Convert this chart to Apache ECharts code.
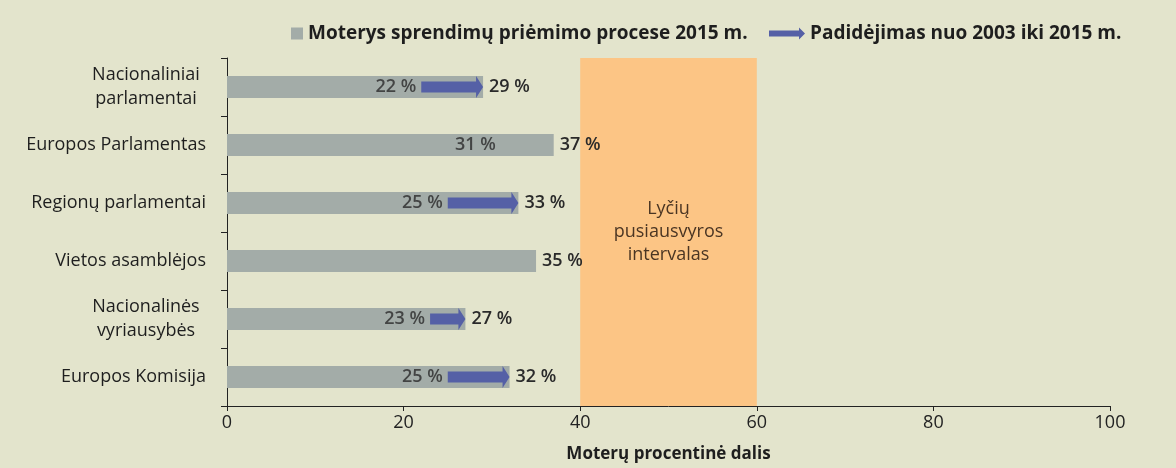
<!DOCTYPE html>
<html>
<head>
<meta charset="utf-8">
<script src="https://cdn.jsdelivr.net/npm/echarts@6/dist/echarts.min.js"></script>
<style>
  html, body { margin: 0; padding: 0; background: #e3e4cc; }
  #chart { width: 1176px; height: 468px; }
</style>
</head>
<body>
<div id="chart"></div>
<script>
// duomenys
const categories = ['Nacionaliniai\nparlamentai', 'Europos Parlamentas', 'Regionų parlamentai', 'Vietos asamblėjos', 'Nacionalinės\nvyriausybės', 'Europos Komisija']
const share2015 = [29, 37, 33, 35, 27, 32]
const share2003 = [22, 31, 25, null, 23, 25]
const arrowFrom = [22, null, 25, null, 23, 25]
const xTicks = [0, 20, 40, 60, 80, 100]
const balanceRange = [40, 60]

const barName = 'Moterys sprendimų priėmimo procese 2015 m.'
const arrowName = 'Padidėjimas nuo 2003 iki 2015 m.'
const FONT = 'Open Sans'
const ARROW = '#5560a6'
const arrowIcon = 'path://M0,3 L30,3 L30,0 L36,6 L30,12 L30,9 L0,9 Z'
const legendText = { fontFamily: FONT, fontWeight: 'bold', fontSize: 19, color: '#1e1e1e' }

let myChart = echarts.init(document.getElementById('chart'))

myChart.setOption({
  backgroundColor: '#e3e4cc',
  textStyle: { fontFamily: FONT },
  legend: [
    {
      top: 19,
      left: 286,
      itemWidth: 12,
      itemHeight: 12,
      itemGap: 0,
      textStyle: legendText,
      data: [{ name: barName, icon: 'rect' }]
    },
    {
      top: 19,
      left: 764,
      itemWidth: 36,
      itemHeight: 12,
      itemGap: 0,
      textStyle: legendText,
      data: [{ name: arrowName, icon: arrowIcon, itemStyle: { color: ARROW } }]
    }
  ],
  grid: { left: 227, right: 66, top: 58, bottom: 62 },
  xAxis: {
    type: 'value',
    min: 0,
    max: 100,
    interval: 20,
    name: 'Moterų procentinė dalis',
    nameLocation: 'middle',
    nameGap: 40,
    nameTextStyle: { fontFamily: FONT, fontWeight: 'bold', fontSize: 17, color: '#1e1e1e' },
    axisLine: { show: true, lineStyle: { color: '#222', width: 1 } },
    axisTick: { show: true, length: 5, lineStyle: { color: '#222' } },
    axisLabel: {
      fontSize: 18, color: '#222', margin: 8,
      formatter: v => xTicks.indexOf(v) >= 0 ? String(v) : ''
    },
    splitLine: { show: false }
  },
  yAxis: {
    type: 'category',
    inverse: true,
    data: categories,
    axisLine: { show: true, lineStyle: { color: '#222', width: 1 } },
    axisTick: { show: true, length: 6, lineStyle: { color: '#222' } },
    axisLabel: {
      fontSize: 18, color: '#1e1e1e', margin: 21, lineHeight: 24,
      formatter: v => v.indexOf('\n') >= 0 ? v.split('\n').map(s => '{c|' + s + '}').join('\n') : v,
      rich: { c: { align: 'center', width: 120, fontSize: 18, fontFamily: FONT, color: '#1e1e1e', lineHeight: 24 } }
    }
  },
  series: [
    {
      name: barName,
      type: 'bar',
      data: share2015,
      barWidth: 22,
      itemStyle: { color: '#a3aca8' },
      label: {
        show: true,
        position: 'right',
        distance: 6,
        formatter: p => p.value + ' %',
        fontSize: 18,
        fontWeight: 600,
        color: '#2a2a2a'
      },
      markArea: {
        silent: true,
        itemStyle: { color: '#fcc585' },
        label: {
          show: true,
          position: 'inside',
          fontSize: 18,
          lineHeight: 23,
          color: '#4a3523',
          fontFamily: FONT
        },
        data: [[
          { name: 'Lyčių\npusiausvyros\nintervalas', xAxis: balanceRange[0] },
          { xAxis: balanceRange[1] }
        ]]
      },
      z: 2
    },
    {
      name: arrowName,
      type: 'custom',
      itemStyle: { color: ARROW },
      data: categories.map((c, i) => [i, arrowFrom[i], share2015[i]]),
      renderItem: (params, api) => {
        let from = api.value(1)
        if (from == null || isNaN(from)) return
        let y = api.value(0)
        let p0 = api.coord([from, y])
        let p1 = api.coord([api.value(2), y])
        let head = 7
        let sx = p1[0] - head
        return {
          type: 'polygon',
          shape: {
            points: [
              [p0[0], p0[1] - 5.5], [sx, p0[1] - 5.5], [sx, p0[1] - 11],
              [p1[0], p0[1]], [sx, p0[1] + 11], [sx, p0[1] + 5.5], [p0[0], p0[1] + 5.5]
            ]
          },
          style: { fill: ARROW }
        }
      },
      encode: { y: 0, x: [1, 2] },
      z: 3
    },
    {
      // 2003 m. reiksmiu etiketes
      name: 'labels2003',
      type: 'scatter',
      symbolSize: 0,
      data: categories.map((c, i) => share2003[i] == null ? [null, i] : [share2003[i], i]),
      label: {
        show: true,
        position: 'left',
        distance: 5,
        formatter: p => p.value[0] + ' %',
        fontSize: 18,
        fontWeight: 600,
        color: '#2a2a2a'
      },
      silent: true,
      z: 4
    }
  ]
})
</script>
</body>
</html>
